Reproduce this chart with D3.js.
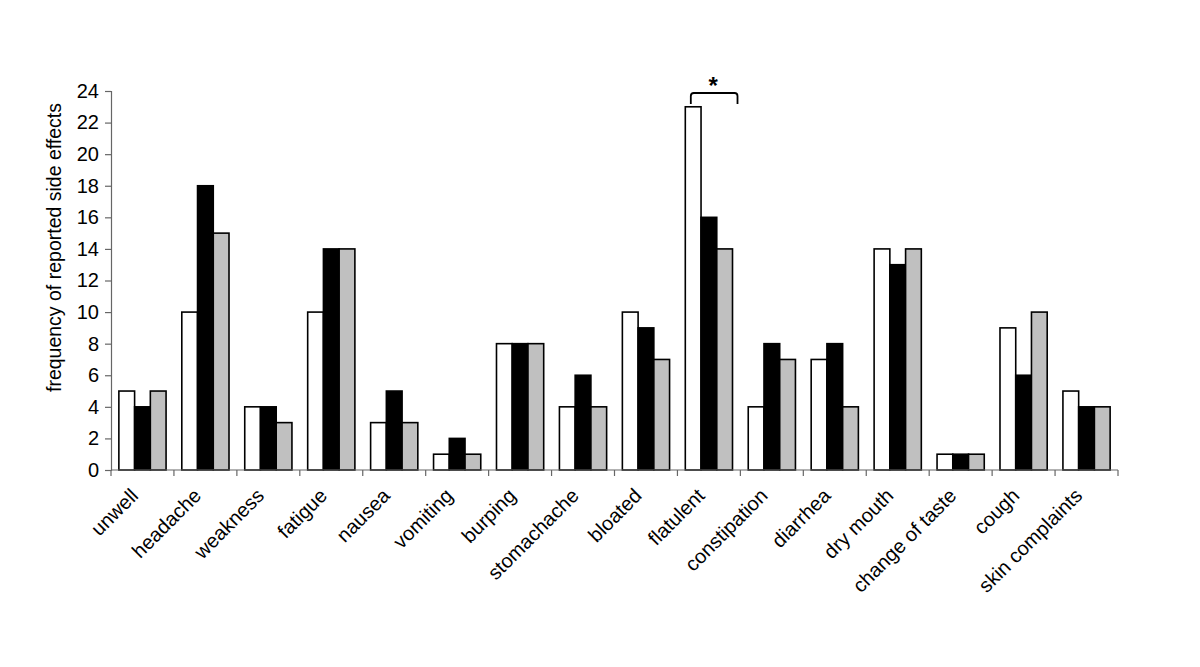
<!DOCTYPE html>
<html>
<head>
<meta charset="utf-8">
<script src="https://cdn.jsdelivr.net/npm/d3@7"></script>
<style>
  body { margin: 0; background: #fff; }
  text { font-family: "Liberation Sans", Arial, sans-serif; }
</style>
</head>
<body>
<svg id="chart" width="1200" height="667"></svg>
<script>
const categories = ["unwell", "headache", "weakness", "fatigue", "nausea", "vomiting", "burping", "stomachache",
    "bloated", "flatulent", "constipation", "diarrhea", "dry mouth", "change of taste", "cough", "skin complaints"];
const seriesNames = ["group1", "group2", "group3"];
const group1 = [5, 10, 4, 10, 3, 1, 8, 4, 10, 23, 4, 7, 14, 1, 9, 5];
const group2 = [4, 18, 4, 14, 5, 2, 8, 6, 9, 16, 8, 8, 13, 1, 6, 4];
const group3 = [5, 15, 3, 14, 3, 1, 8, 4, 7, 14, 7, 4, 14, 1, 10, 4];
const yTicks = [0, 2, 4, 6, 8, 10, 12, 14, 16, 18, 20, 22, 24];
const colors = ["#ffffff", "#000000", "#c0c0c0"];

const margin = { top: 91, right: 82, bottom: 197, left: 111 },
    width = 1200 - margin.left - margin.right,
    height = 667 - margin.top - margin.bottom;

const svg = d3.select("#chart")
    .append("g")
    .attr("transform", "translate(" + margin.left + "," + margin.top + ")");

const x = d3.scaleBand()
    .domain(categories)
    .range([0, width])
    .paddingInner(0.25)
    .paddingOuter(0.125);

const xSub = d3.scaleBand()
    .domain(seriesNames)
    .range([0, x.bandwidth()]);

const y = d3.scaleLinear()
    .domain([0, 24])
    .range([height, 0]);

const table = categories.map((c, i) => ({ cat: c, values: [group1[i], group2[i], group3[i]] }));

const groups = svg.selectAll(".group")
    .data(table)
    .enter().append("g")
    .attr("class", "group")
    .attr("transform", d => "translate(" + x(d.cat) + ",0)");

groups.selectAll("rect")
    .data(d => d.values.map((v, j) => ({ key: seriesNames[j], v: v, j: j })))
    .enter().append("rect")
    .attr("x", d => xSub(d.key))
    .attr("y", d => y(d.v))
    .attr("width", xSub.bandwidth())
    .attr("height", d => height - y(d.v))
    .style("fill", d => colors[d.j])
    .style("stroke", "#000")
    .style("stroke-width", 1.6);

// x axis: ticks between categories
const step = x.step();
const xTickPos = d3.range(categories.length + 1).map(i => i * step);
const xAxis = svg.append("g").attr("transform", "translate(0," + height + ")");
xAxis.append("line")
    .attr("x1", 0).attr("x2", width)
    .attr("stroke", "#666").attr("stroke-width", 1.2);
xAxis.selectAll(".xt")
    .data(xTickPos)
    .enter().append("line")
    .attr("x1", d => d).attr("x2", d => d)
    .attr("y1", 0).attr("y2", 6)
    .attr("stroke", "#666").attr("stroke-width", 1.2);

xAxis.selectAll(".xl")
    .data(categories)
    .enter().append("text")
    .attr("transform", d => "translate(" + (x(d) + x.bandwidth() / 2 - 3) + ",27) rotate(-45)")
    .attr("text-anchor", "end")
    .style("font-size", "20px")
    .style("fill", "#000")
    .text(d => d);

// y axis
const yAxis = svg.append("g")
    .call(d3.axisLeft(y).tickValues(yTicks).tickSize(6).tickPadding(6));
yAxis.select(".domain").attr("stroke", "#666").attr("stroke-width", 1.2);
yAxis.selectAll(".tick line").attr("stroke", "#666").attr("stroke-width", 1.2);
yAxis.selectAll(".tick text")
    .style("font-size", "20px")
    .style("font-family", "'Liberation Sans', Arial, sans-serif")
    .style("fill", "#000");

svg.append("text")
    .attr("transform", "translate(-50," + (height / 2 - 33) + ") rotate(-90)")
    .attr("text-anchor", "middle")
    .style("font-size", "19.5px")
    .text("frequency of reported side effects");

// significance bracket over flatulent
const fi = categories.indexOf("flatulent");
const bx0 = x(categories[fi]) + xSub.bandwidth() * 0.35;
const bx1 = x(categories[fi]) + x.bandwidth() + 5;
const by = y(24) + 2;
svg.append("path")
    .attr("d", "M" + bx0 + "," + (by + 11) + " L" + bx0 + "," + (by + 3) +
        " Q" + bx0 + "," + by + " " + (bx0 + 3) + "," + by +
        " L" + (bx1 - 3) + "," + by +
        " Q" + bx1 + "," + by + " " + bx1 + "," + (by + 3) +
        " L" + bx1 + "," + (by + 11))
    .attr("fill", "none")
    .attr("stroke", "#000")
    .attr("stroke-width", 1.8);
svg.append("text")
    .attr("x", (bx0 + bx1) / 2 - 1)
    .attr("y", by + 1)
    .attr("text-anchor", "middle")
    .style("font-size", "24px")
    .style("font-weight", "bold")
    .text("*");
</script>
</body>
</html>
